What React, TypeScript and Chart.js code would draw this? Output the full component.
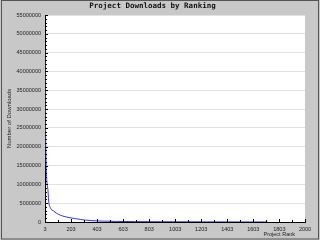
import React, { useEffect, useRef } from "react";
import { Chart, registerables } from "chart.js";

Chart.register(...registerables);

const ranks = [3, 5, 8, 12, 17, 26, 31, 44, 70, 108, 172, 236, 313, 415, 550, 700, 900, 1100, 1300, 1500, 1710];
const downloads = [46000000, 30000000, 22000000, 15000000, 11000000, 8300000, 5600000, 3800000, 2900000, 2000000, 1300000, 900000, 500000, 270000, 150000, 100000, 70000, 50000, 35000, 20000, 10000];
const xTickValues = [3, 203, 403, 603, 803, 1003, 1203, 1403, 1603, 1803, 2000];
const chartTitle = "Project Downloads by Ranking";
const yTitle = "Number of Downloads";
const xTitle = "Project Rank";

const frame = {
  id: "frame",
  beforeDraw(chart: any) {
    const { ctx, width, height, chartArea } = chart;
    ctx.save();
    ctx.fillStyle = "#c8c8c8";
    ctx.fillRect(0, 0, width, height);
    ctx.strokeStyle = "#555555";
    ctx.lineWidth = 1;
    ctx.strokeRect(1.5, 0.5, width - 3, height - 1.5);
    ctx.fillStyle = "#ffffff";
    ctx.fillRect(chartArea.left, chartArea.top, chartArea.right - chartArea.left, chartArea.bottom - chartArea.top);
    ctx.restore();
  },
  afterDraw(chart: any) {
    const { ctx, chartArea } = chart;
    const ys = chart.scales.y;
    const xs = chart.scales.x;
    ctx.save();
    ctx.strokeStyle = "#000000";
    ctx.lineWidth = 1;
    ctx.beginPath();
    for (let v = 0; v <= 55000000; v += 1000000) {
      const py = Math.round(ys.getPixelForValue(v)) + 0.5;
      const len = v % 5000000 === 0 ? 3 : 2;
      ctx.moveTo(chartArea.left, py);
      ctx.lineTo(chartArea.left + len, py);
    }
    for (let i = 0; i < xTickValues.length; i++) {
      const px = Math.round(xs.getPixelForValue(xTickValues[i])) + 0.5;
      ctx.moveTo(px, chartArea.bottom);
      ctx.lineTo(px, chartArea.bottom - 3);
      if (i < xTickValues.length - 1) {
        const mx = Math.round(xs.getPixelForValue((xTickValues[i] + xTickValues[i + 1]) / 2)) + 0.5;
        ctx.moveTo(mx, chartArea.bottom);
        ctx.lineTo(mx, chartArea.bottom - 2);
      }
    }
    ctx.stroke();
    ctx.fillStyle = "#222222";
    ctx.font = "5.5px 'Liberation Sans'";
    ctx.textAlign = "right";
    ctx.textBaseline = "middle";
    ctx.fillText(xTitle, chartArea.right - 10, 234.5);
    ctx.restore();
  },
};

export default function App() {
  const ref = useRef<HTMLCanvasElement>(null);
  useEffect(() => {
    document.body.style.margin = "0";
    const chart = new Chart(ref.current as HTMLCanvasElement, {
      type: "line",
      data: {
        datasets: [
          {
            data: ranks.map((r, i) => ({ x: r, y: downloads[i] })),
            borderColor: "#3535e0",
            borderWidth: 1,
            pointRadius: 0,
            cubicInterpolationMode: "monotone",
            fill: false,
          },
        ],
      },
      options: {
        responsive: false,
        animation: false,
        layout: { padding: { top: 0, left: 0, right: 15, bottom: 0 } },
        plugins: {
          legend: { display: false },
          tooltip: { enabled: false },
          title: {
            display: true,
            text: chartTitle,
            color: "#111111",
            font: { family: "'DejaVu Sans Mono'", size: 7.5, weight: "bold", lineHeight: 1.2 },
            padding: { top: 1.5, bottom: 4.5 },
          },
        },
        scales: {
          x: {
            type: "linear",
            min: 3,
            max: 2000,
            afterBuildTicks: (scale: any) => {
              scale.ticks = xTickValues.map((v) => ({ value: v }));
            },
            afterFit: (scale: any) => {
              scale.height = 18;
            },
            grid: { display: false, drawTicks: false },
            border: { display: true, color: "#000000" },
            ticks: {
              autoSkip: false,
              maxRotation: 0,
              padding: 4,
              color: "#222222",
              font: { family: "'Liberation Sans'", size: 5.5 },
              callback: (v: any) => String(v),
            },
          },
          y: {
            min: 0,
            max: 55000000,
            afterFit: (scale: any) => {
              scale.width = 45;
            },
            grid: { color: "#e2e2e2", drawTicks: false },
            border: { display: true, color: "#000000" },
            title: {
              display: true,
              text: yTitle,
              color: "#222222",
              font: { family: "'Liberation Sans'", size: 6, lineHeight: 1.2 },
              padding: { top: 5.4, bottom: 0 },
            },
            ticks: {
              stepSize: 5000000,
              padding: 4,
              color: "#222222",
              font: { family: "'Liberation Sans'", size: 5.5 },
              callback: (v: any) => String(v),
            },
          },
        },
      },
      plugins: [frame],
    } as any);
    return () => chart.destroy();
  }, []);
  return <canvas ref={ref} width={320} height={240} style={{ display: "block" }} />;
}
